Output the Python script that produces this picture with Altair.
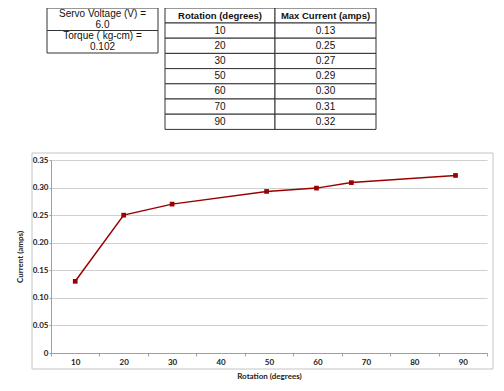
import altair as alt
import pandas as pd

# ---- data ----
table_rotation = ["10", "20", "30", "50", "60", "70", "90"]
table_current = ["0.13", "0.25", "0.27", "0.29", "0.30", "0.31", "0.32"]
table_headers = ["Rotation (degrees)", "Max Current (amps)"]
info_lines = ["Servo Voltage (V) =", "6.0", "Torque ( kg-cm) =", "0.102"]

plot_rotation = [10, 20, 30, 49.5, 59.8, 67, 88.5]
plot_current = [0.13, 0.25, 0.27, 0.293, 0.299, 0.309, 0.322]

x_categories = [10, 20, 30, 40, 50, 60, 70, 80, 90]
y_ticks = [0, 0.05, 0.10, 0.15, 0.20, 0.25, 0.30, 0.35]

W, H = 436, 193
LINE_COLOR = "#990000"

# ---- layout of the two tables (pixels relative to plot origin) ----
t1_x = (-4, 107)
t1_y = (-152, -129.5, -107)
t2_x = (114, 224, 325)
t2_top, t2_head_h, t2_row_h = -152, 15, 15.2

def t2_row_edges(r):
    if r == 0:
        return t2_top, t2_top + t2_head_h
    y0 = t2_top + t2_head_h + (r - 1) * t2_row_h
    return y0, y0 + t2_row_h

cells = []
for r in range(len(table_rotation) + 1):
    y0, y1 = t2_row_edges(r)
    for c in range(2):
        cells.append(dict(x=t2_x[c], x2=t2_x[c + 1], y=y0, y2=y1))
for r in range(2):
    cells.append(dict(x=t1_x[0], x2=t1_x[1], y=t1_y[r], y2=t1_y[r + 1]))
cells_df = pd.DataFrame(cells)

head_txt, body_txt = [], []
for c in range(2):
    y0, y1 = t2_row_edges(0)
    head_txt.append(dict(x=(t2_x[c] + t2_x[c + 1]) / 2, y=(y0 + y1) / 2, t=table_headers[c]))
for r, (a, b) in enumerate(zip(table_rotation, table_current), start=1):
    y0, y1 = t2_row_edges(r)
    for c, v in enumerate((a, b)):
        body_txt.append(dict(x=(t2_x[c] + t2_x[c + 1]) / 2, y=(y0 + y1) / 2, t=v))
head_df = pd.DataFrame(head_txt)
body_df = pd.DataFrame(body_txt)

info_y = [-146.3, -135.2, -124.0, -112.9]
info_df = pd.DataFrame(dict(x=[(t1_x[0] + t1_x[1]) / 2] * 4, y=info_y, t=info_lines))

def px(f):
    return alt.X(f + ":Q", scale=None, axis=None)

def py(f):
    return alt.Y(f + ":Q", scale=None, axis=None)

cells_layer = alt.Chart(cells_df).mark_rect(fill="white", stroke="#333333", strokeWidth=1).encode(
    x=px("x"), x2="x2:Q", y=py("y"), y2="y2:Q")
head_layer = alt.Chart(head_df).mark_text(font="Liberation Sans", fontSize=9.5, fontWeight="bold",
                                           color="#111111", baseline="middle").encode(
    x=px("x"), y=py("y"), text="t:N")
body_layer = alt.Chart(body_df).mark_text(font="Liberation Sans", fontSize=10, color="#111111",
                                           baseline="middle").encode(
    x=px("x"), y=py("y"), text="t:N")
info_layer = alt.Chart(info_df).mark_text(font="Liberation Sans", fontSize=10, color="#111111",
                                           baseline="middle").encode(
    x=px("x"), y=py("y"), text="t:N")

border = alt.Chart(pd.DataFrame({"a": [0]})).mark_rect(fill="transparent", stroke="#c4c4c4",
                                                       strokeWidth=1).encode(
    x=alt.value(-19), x2=alt.value(442), y=alt.value(-7), y2=alt.value(209))

data_df = pd.DataFrame(dict(rotation=plot_rotation, current=plot_current))

x_values = [5] + [v for c in x_categories for v in (c, c + 5)]

line = alt.Chart(data_df).mark_line(
    color=LINE_COLOR, strokeWidth=1.5,
    point=alt.OverlayMarkDef(shape="square", size=22, filled=True, color=LINE_COLOR),
).encode(
    x=alt.X("rotation:Q", title="Rotation (degrees)",
            scale=alt.Scale(domain=[5, 95], nice=False, zero=False),
            axis=alt.Axis(values=x_values, grid=False,
                          labelExpr="datum.value % 10 == 0 ? datum.label : ''",
                          tickOpacity={"condition": {"test": "datum.value % 10 != 0", "value": 1}, "value": 0},
                          tickSize=3, labelPadding=2, titlePadding=6,
                          domainColor="#a0a0a0", tickColor="#a0a0a0")),
    y=alt.Y("current:Q", title="Current (amps)",
            scale=alt.Scale(domain=[0, 0.35], nice=False),
            axis=alt.Axis(values=y_ticks, grid=True, gridColor="#cfcfcf",
                          labelExpr="datum.value == 0 ? '0' : format(datum.value, '.2f')",
                          tickSize=2, labelPadding=1, titlePadding=8,
                          domainColor="#a0a0a0", tickColor="#a0a0a0")),
)

chart = alt.layer(border, cells_layer, head_layer, body_layer, info_layer, line).properties(
    width=W, height=H,
    autosize=alt.AutoSizeParams(type="none"),
    padding={"left": 43, "top": 152, "right": 8, "bottom": 30},
).configure_view(stroke=None).configure_axis(
    labelFont="Lato", labelFontWeight="bold", labelFontSize=8, labelColor="#222222",
    titleFont="Lato", titleFontWeight="bold", titleFontSize=8, titleColor="#222222",
)

chart.save("out.html", embed_options={"renderer": "svg", "actions": False})
